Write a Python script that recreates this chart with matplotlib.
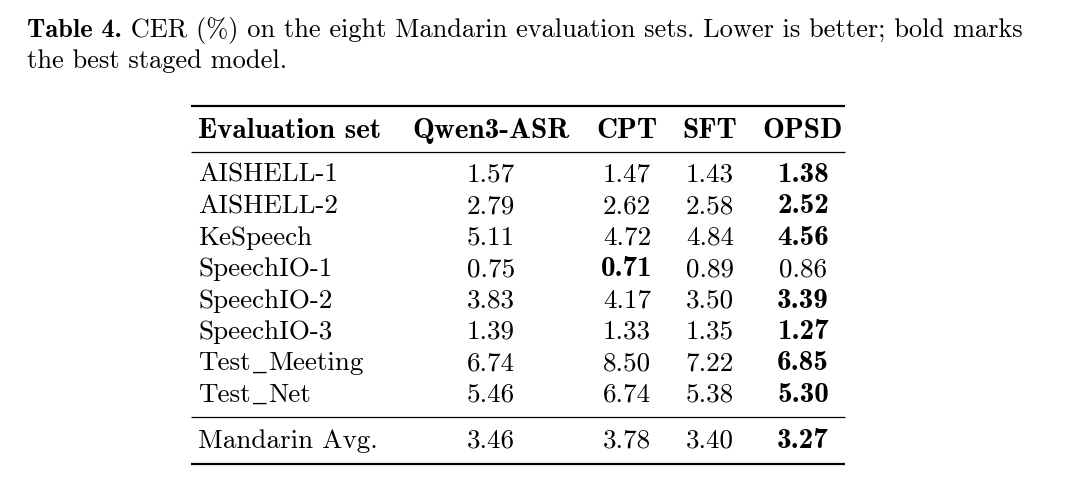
import matplotlib as mpl
mpl.use('Agg')
import matplotlib.pyplot as plt

# table content
eval_sets = ["AISHELL-1", "AISHELL-2", "KeSpeech", "SpeechIO-1", "SpeechIO-2",
             "SpeechIO-3", "Test_Meeting", "Test_Net"]
qwen3_asr = [1.57, 2.79, 5.11, 0.75, 3.83, 1.39, 6.74, 5.46]
cpt = [1.47, 2.62, 4.72, 0.71, 4.17, 1.33, 8.50, 6.74]
sft = [1.43, 2.58, 4.84, 0.89, 3.50, 1.35, 7.22, 5.38]
opsd = [1.38, 2.52, 4.56, 0.86, 3.39, 1.27, 6.85, 5.30]
avg_label = "Mandarin Avg."
avg_values = [3.46, 3.78, 3.40, 3.27]
headers = ["Evaluation set", "Qwen3-ASR", "CPT", "SFT", "OPSD"]
caption_bold = "Table 4."
caption_rest = " CER (%) on the eight Mandarin evaluation sets. Lower is better; bold marks"
caption_line2 = "the best staged model."

REG = ['cmr10', 'DejaVu Serif']
BOLD = ['cmb10', 'DejaVu Serif']
FS_CAP = 19
FS = 19.5
FS_B = 21

fig = plt.figure(figsize=(10.8, 4.81), dpi=100)
ax = fig.add_axes([0, 0, 1, 1])
ax.set_xlim(0, 1080)
ax.set_ylim(481, 0)
ax.axis('off')
fig.canvas.draw()
renderer = fig.canvas.get_renderer()


def end_x(t):
    # right edge of a text in pixels (display coords)
    return t.get_window_extent(renderer).x1


def px_to_data_x(px):
    return ax.transData.inverted().transform((px, 0))[0]


# caption (baselines)
t = ax.text(27, 37, caption_bold, fontsize=FS_CAP, family=BOLD, fontweight='bold', va='baseline')
ax.text(px_to_data_x(end_x(t)), 37, caption_rest, fontsize=FS_CAP, family=REG, va='baseline')
ax.text(27, 68, caption_line2, fontsize=FS_CAP, family=REG, va='baseline')

# columns
col_x = [198, 491, 627, 710, 803]
header_y = 138
row_y0 = 182
row_dy = 31.4
x0, x1 = 191, 845

ax.hlines(107, x0, x1, color='black', linewidth=1.6)
ax.hlines(153, x0, x1, color='black', linewidth=0.9)

for i, h in enumerate(headers):
    ax.text(col_x[i], header_y, h, fontsize=FS_B, family=BOLD, fontweight='bold',
            va='baseline', ha='left' if i == 0 else 'center')


def draw_label(x, y, label):
    # cmr10 has no real underscore, so draw it in another face between the parts
    parts = label.split('_')
    t = ax.text(x, y, parts[0], fontsize=FS, family=REG, va='baseline', ha='left')
    for p in parts[1:]:
        u = ax.text(px_to_data_x(end_x(t)) + 2, y - 4, '_', fontsize=FS,
                    family=['DejaVu Serif'], va='baseline', ha='left')
        t = ax.text(px_to_data_x(end_x(u)) + 2, y, p, fontsize=FS, family=REG,
                    va='baseline', ha='left')


def draw_row(y, label, vals):
    draw_label(col_x[0], y, label)
    best = min(vals[1:])
    for j, v in enumerate(vals):
        is_bold = j > 0 and v == best
        ax.text(col_x[j + 1], y, f"{v:.2f}",
                fontsize=FS_B if is_bold else FS,
                family=BOLD if is_bold else REG,
                fontweight='bold' if is_bold else 'normal',
                va='baseline', ha='center')


for r, name in enumerate(eval_sets):
    draw_row(row_y0 + r * row_dy, name, [qwen3_asr[r], cpt[r], sft[r], opsd[r]])

ax.hlines(418, x0, x1, color='black', linewidth=0.9)
draw_row(448, avg_label, avg_values)
ax.hlines(465, x0, x1, color='black', linewidth=1.6)

fig.savefig("out.png", dpi=100, facecolor='white')
